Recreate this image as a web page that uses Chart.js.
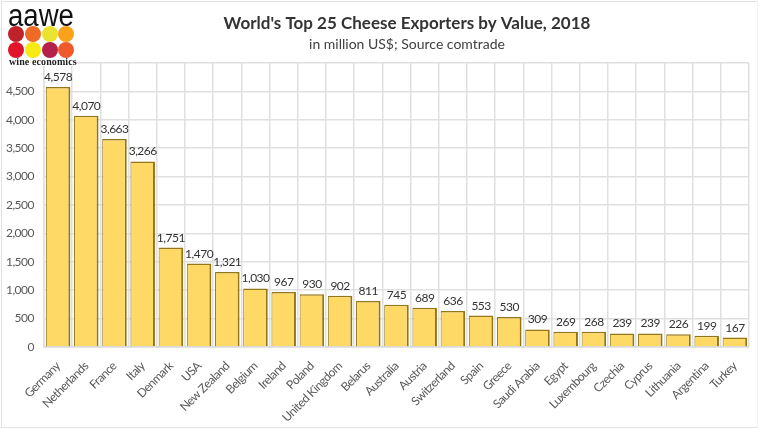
<!DOCTYPE html>
<html>
<head>
<meta charset="utf-8">
<script src="https://cdn.jsdelivr.net/npm/chart.js@4"></script>
<style>
  html, body { margin: 0; padding: 0; background: #fff; }
  #wrap { position: relative; width: 760px; height: 429px; overflow: hidden; }
  #frame { position: absolute; left: 1px; top: 1px; width: 755px; height: 425px; border: 1.5px solid #e2e2e2; border-right-color: #f3f3f3; }
  canvas { position: absolute; left: 0; top: 0; }
  #logo { position: absolute; left: 3px; top: 3px; width: 72px; height: 63px; background: #fff; }
  #logo .name { position: absolute; left: 5px; top: 0px; font: 31px/26px "Liberation Sans", sans-serif; color: #111; transform: scaleX(0.89); transform-origin: left top; }
  #logo .sub { position: absolute; left: 6px; top: 53px; font: bold 10px/11px "Liberation Serif", serif; letter-spacing: 0.1px; color: #222; white-space: nowrap; }
  #logo i { position: absolute; width: 16px; height: 16px; border-radius: 50%; }
</style>
</head>
<body>
<div id="wrap">
  <div id="frame"></div>
  <canvas id="myChart" width="760" height="429"></canvas>
  <div id="logo">
    <div class="name">aawe</div>
    <i style="left:5px;top:23px;background:#c0222a"></i>
    <i style="left:22px;top:23px;background:#ef6a24"></i>
    <i style="left:39px;top:23px;background:#e9e32f"></i>
    <i style="left:55px;top:23px;background:#fba21a"></i>
    <i style="left:5px;top:39px;background:#e2162a"></i>
    <i style="left:22px;top:39px;background:#f9e915"></i>
    <i style="left:39px;top:39px;background:#b51f4b"></i>
    <i style="left:55px;top:39px;background:#ee5a2c"></i>
    <div class="sub">wine economics</div>
  </div>
</div>
<script>
const countries = ["Germany", "Netherlands", "France", "Italy", "Denmark", "USA", "New Zealand", "Belgium", "Ireland", "Poland", "United Kingdom", "Belarus", "Australia", "Austria", "Switzerland", "Spain", "Greece", "Saudi Arabia", "Egypt", "Luxembourg", "Czechia", "Cyprus", "Lithuania", "Argentina", "Turkey"];
const exportValues = [4578, 4070, 3663, 3266, 1751, 1470, 1321, 1030, 967, 930, 902, 811, 745, 689, 636, 553, 530, 309, 269, 268, 239, 239, 226, 199, 167];
const chartTitle = "World's Top 25 Cheese Exporters by Value, 2018";
const chartSubtitle = "in million US$; Source comtrade";

const fontName = "Lato, 'Open Sans', sans-serif";

const textPlugin = {
  id: "textPlugin",
  beforeDraw(chart) {
    // Calibri-like width for the axis labels
    chart.ctx.letterSpacing = "-0.5px";
  },
  afterDatasetsDraw(chart) {
    const c = chart.ctx;
    c.save();
    c.textAlign = "center";
    c.textBaseline = "alphabetic";
    c.letterSpacing = "0px";
    c.fillStyle = "#333";
    c.font = "bold 17px " + fontName;
    c.fillText(chartTitle, 407, 29);
    c.fillStyle = "#404040";
    c.font = "14px " + fontName;
    c.fillText(chartSubtitle, 407, 49);
    // value labels over the bars
    c.fillStyle = "#333";
    c.font = "12px " + fontName;
    c.letterSpacing = "-0.5px";
    chart.getDatasetMeta(0).data.forEach((bar, i) => {
      c.fillText(exportValues[i].toLocaleString("en-US"), bar.x, bar.y - 6);
    });
    c.restore();
  }
};

new Chart(document.getElementById("myChart").getContext("2d"), {
  type: "bar",
  data: {
    labels: countries,
    datasets: [{
      data: exportValues,
      backgroundColor: "#ffd966",
      borderColor: "#94761a",
      borderWidth: { top: 1.5, left: 1, right: 2, bottom: 0 },
      barPercentage: 0.87,
      categoryPercentage: 1
    }]
  },
  options: {
    responsive: false,
    animation: false,
    layout: { padding: { top: 63, right: 11 } },
    plugins: { legend: { display: false }, tooltip: { enabled: false } },
    scales: {
      x: {
        afterFit(axis) { axis.height = 82; },
        grid: { color: "#e0e0e0", lineWidth: 1.5, drawTicks: false },
        border: { color: "#d9d9d9", width: 1.5 },
        ticks: {
          autoSkip: false, minRotation: 45, maxRotation: 45, padding: 12,
          color: "#595959", font: { family: fontName, size: 12 }
        }
      },
      y: {
        min: 0, max: 5000,
        afterFit(axis) { axis.width = 44; },
        grid: { color: "#e0e0e0", lineWidth: 1.5, drawTicks: false },
        border: { color: "#e0e0e0", width: 1.5 },
        ticks: {
          stepSize: 500, padding: 10,
          color: "#595959", font: { family: fontName, size: 12 },
          callback: (v) => v === 5000 ? "" : v.toLocaleString("en-US")
        }
      }
    }
  },
  plugins: [textPlugin]
});
</script>
</body>
</html>
